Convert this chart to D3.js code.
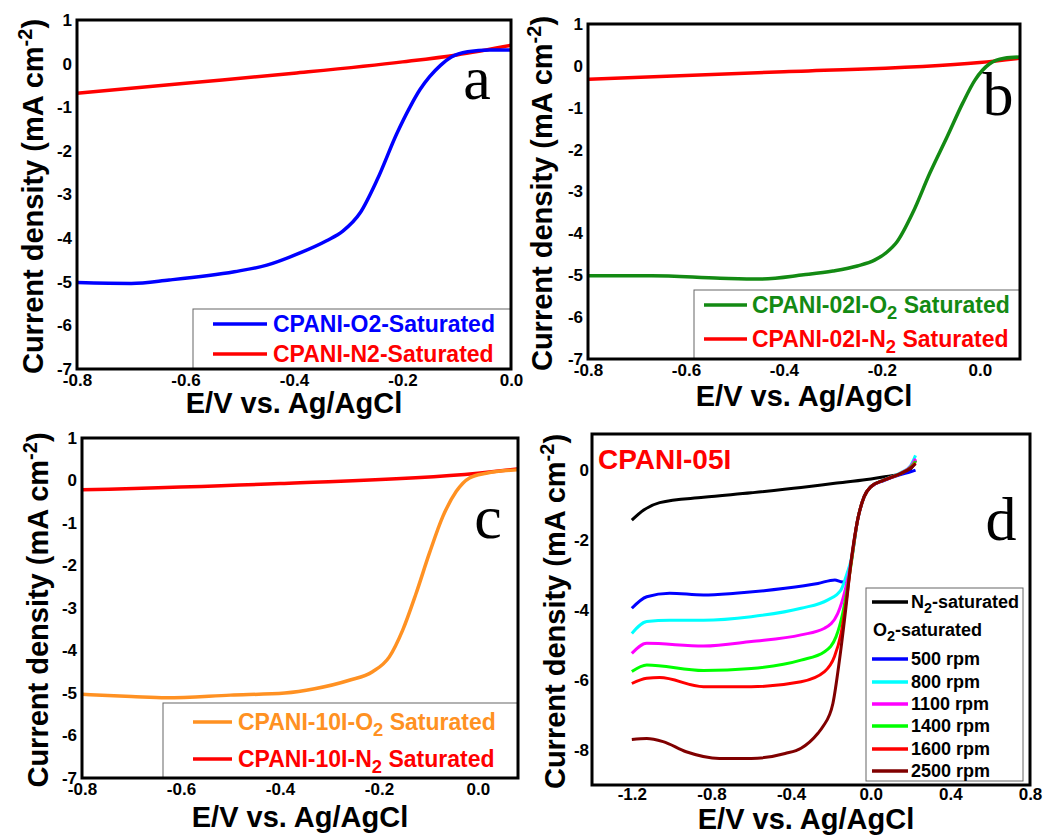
<!DOCTYPE html>
<html>
<head>
<meta charset="utf-8">
<script src="https://cdn.jsdelivr.net/npm/d3@7"></script>
<style>
  body { margin: 0; background: #fff; }
  text { font-family: "Liberation Sans", Arial, sans-serif; font-weight: bold; }
</style>
</head>
<body>
<div id="wrapper"></div>
<script>
// Panel a: CPANI (E in V, j in mA cm-2)
const aO2 = [[-0.8,-5.02],[-0.7,-5.04],[-0.63,-4.96],[-0.51,-4.77],[-0.45,-4.62],[-0.389,-4.34],[-0.34,-4.06],[-0.31,-3.84],[-0.278,-3.42],[-0.247,-2.67],[-0.21,-1.59],[-0.186,-0.99],[-0.168,-0.6],[-0.15,-0.3],[-0.13,-0.04],[-0.11,0.15],[-0.08,0.27],[-0.04,0.31],[0,0.31]]
const aN2 = [[-0.8,-0.68],[-0.6,-0.45],[-0.4,-0.22],[-0.2,0.04],[-0.1,0.2],[0,0.42]]

// Panel b: CPANI-02I
const bO2 = [[-0.8,-5.01],[-0.67,-5.01],[-0.53,-5.07],[-0.45,-5.09],[-0.36,-4.99],[-0.3,-4.9],[-0.25,-4.78],[-0.215,-4.64],[-0.19,-4.45],[-0.169,-4.2],[-0.137,-3.51],[-0.102,-2.56],[-0.067,-1.7],[-0.035,-0.89],[-0.01,-0.34],[0.02,0.05],[0.05,0.18],[0.08,0.21]]
const bN2 = [[-0.8,-0.32],[-0.4,-0.14],[0,0.08],[0.08,0.18]]

// Panel c: CPANI-10I
const cO2 = [[-0.8,-5.03],[-0.7,-5.08],[-0.63,-5.11],[-0.5,-5.05],[-0.39,-5.0],[-0.33,-4.9],[-0.26,-4.7],[-0.213,-4.5],[-0.179,-4.15],[-0.152,-3.52],[-0.125,-2.66],[-0.098,-1.71],[-0.071,-0.85],[-0.044,-0.26],[-0.017,0.06],[0.017,0.17],[0.08,0.25]]
const cN2 = [[-0.8,-0.22],[-0.4,-0.07],[0,0.17],[0.08,0.27]]

// Panel d: CPANI-05I at several rotation rates
const dN2 = [[-1.2,-1.43],[-1.14,-1.14],[-1.06,-0.93],[-0.84,-0.78],[-0.6,-0.65],[-0.35,-0.5],[-0.18,-0.38],[-0.02,-0.27],[0.07,-0.19],[0.13,-0.14],[0.18,-0.05],[0.21,0.1],[0.225,0.28]]
const d500 = [[-1.2,-3.95],[-1.125,-3.62],[-1.01,-3.52],[-0.84,-3.57],[-0.68,-3.52],[-0.43,-3.38],[-0.265,-3.24],[-0.18,-3.14],[-0.15,-3.19],[-0.13,-3.2],[-0.1,-2.67],[-0.066,-1.43],[-0.033,-0.76],[0,-0.48],[0.066,-0.3],[0.15,-0.13],[0.2,-0.05],[0.225,0.0]]
const d800 = [[-1.2,-4.67],[-1.125,-4.33],[-1.01,-4.29],[-0.84,-4.29],[-0.6,-4.19],[-0.35,-3.95],[-0.215,-3.71],[-0.15,-3.43],[-0.116,-2.9],[-0.1,-2.6],[-0.066,-1.43],[-0.033,-0.76],[0,-0.47],[0.066,-0.28],[0.15,-0.08],[0.2,0.12],[0.225,0.42]]
const d1100 = [[-1.2,-5.24],[-1.125,-4.95],[-0.84,-5.03],[-0.6,-4.9],[-0.35,-4.71],[-0.232,-4.52],[-0.166,-4.1],[-0.124,-3.33],[-0.1,-2.67],[-0.066,-1.43],[-0.033,-0.76],[0,-0.48],[0.066,-0.29],[0.15,-0.09],[0.2,0.1],[0.225,0.32]]
const d1400 = [[-1.2,-5.76],[-1.125,-5.57],[-0.84,-5.73],[-0.6,-5.67],[-0.35,-5.43],[-0.232,-5.19],[-0.174,-4.76],[-0.141,-4.1],[-0.116,-3.33],[-0.1,-2.75],[-0.066,-1.43],[-0.033,-0.76],[0,-0.48],[0.066,-0.29],[0.15,-0.1],[0.2,0.08],[0.225,0.25]]
const d1600 = [[-1.2,-6.1],[-1.125,-5.95],[-1.06,-5.93],[-0.84,-6.19],[-0.6,-6.19],[-0.35,-6.05],[-0.232,-5.76],[-0.182,-5.33],[-0.149,-4.67],[-0.116,-3.43],[-0.1,-2.7],[-0.066,-1.43],[-0.033,-0.76],[0,-0.48],[0.066,-0.29],[0.15,-0.1],[0.2,0.06],[0.225,0.2]]
const d2500 = [[-1.2,-7.7],[-1.125,-7.67],[-1.043,-7.76],[-0.927,-8.05],[-0.76,-8.24],[-0.6,-8.24],[-0.43,-8.1],[-0.35,-7.95],[-0.265,-7.52],[-0.24,-7.33],[-0.19,-6.67],[-0.157,-5.43],[-0.124,-3.9],[-0.1,-2.67],[-0.066,-1.43],[-0.033,-0.76],[0,-0.48],[0.066,-0.29],[0.15,-0.1],[0.2,0.05],[0.225,0.18]]

const ticksXabc = [-0.8, -0.6, -0.4, -0.2, 0.0]
const ticksYabc = [-7, -6, -5, -4, -3, -2, -1, 0, 1]
const ticksXd = [-1.2, -0.8, -0.4, 0.0, 0.4, 0.8]
const ticksYd = [-8, -6, -4, -2, 0]

const width = 1052
const height = 835

const svg = d3.select("#wrapper")
  .append("svg")
    .attr("width", width)
    .attr("height", height)

const minus = s => s.replace("\u2212", "-")

// Draw one panel. box = frame in pixels.
function drawPanel(p) {
  const g = svg.append("g")
  const xScale = d3.scaleLinear().domain(p.xDomain).range([p.box.left, p.box.right])
  const yScale = d3.scaleLinear().domain(p.yDomain).range([p.box.bottom, p.box.top])

  const xAxis = g.append("g")
    .attr("transform", `translate(0,${p.box.bottom})`)
    .call(d3.axisBottom(xScale).tickValues(p.xTicks).tickFormat(d => minus(d3.format(".1f")(d))).tickSize(0).tickPadding(p.xPad))
  const yAxis = g.append("g")
    .attr("transform", `translate(${p.box.left},0)`)
    .call(d3.axisLeft(yScale).tickValues(p.yTicks).tickFormat(d => minus(d3.format("d")(d))).tickSize(0).tickPadding(p.yPad))
  for (const ax of [xAxis, yAxis]) {
    ax.select(".domain").remove()
    ax.selectAll("text")
      .attr("fill", "#000")
      .style("font-size", "17px")
      .style("font-family", "'Liberation Sans', Arial, sans-serif")
      .style("font-weight", "bold")
  }

  const lineGenerator = d3.line()
    .x(d => xScale(d[0]))
    .y(d => yScale(d[1]))
    .curve(d3.curveMonotoneX)

  // legend box underneath lines
  const lg = p.legend
  g.append("rect")
    .attr("x", lg.x).attr("y", lg.y).attr("width", lg.w).attr("height", lg.h)
    .attr("fill", "#fff").attr("stroke", "#666").attr("stroke-width", 1)

  p.series.forEach(s => {
    g.append("path")
      .attr("d", lineGenerator(s.data))
      .attr("fill", "none")
      .attr("stroke", s.color)
      .attr("stroke-width", p.lineWidth)
      .attr("stroke-linejoin", "round")
  })

  // frame
  g.append("rect")
    .attr("x", p.box.left).attr("y", p.box.top)
    .attr("width", p.box.right - p.box.left).attr("height", p.box.bottom - p.box.top)
    .attr("fill", "none").attr("stroke", "#000").attr("stroke-width", 3)

  // legend entries
  const fs = lg.fontSize
  lg.rows.forEach(r => {
    if (r.color) {
      g.append("line")
        .attr("x1", lg.lineX1).attr("x2", lg.lineX2)
        .attr("y1", r.y).attr("y2", r.y)
        .attr("stroke", r.color).attr("stroke-width", 3.5)
    }
    const t = g.append("text")
      .attr("x", r.tx || lg.textX).attr("y", r.y + fs * 0.36)
      .attr("fill", r.textColor)
      .style("font-size", fs + "px")
    let shifted = false
    r.parts.forEach(part => {
      if (part.sub) {
        t.append("tspan").text(part.sub).attr("dy", fs * 0.25).style("font-size", (fs * 0.8) + "px")
        shifted = true
      } else {
        const ts = t.append("tspan").text(part.t)
        if (shifted) { ts.attr("dy", -fs * 0.25); shifted = false }
      }
    })
  })

  // axis titles
  g.append("text")
    .attr("x", (p.box.left + p.box.right) / 2 + p.xLabelDx)
    .attr("y", p.xLabelY)
    .attr("text-anchor", "middle")
    .style("font-size", "29px")
    .text("E/V vs. Ag/AgCl")

  const yl = g.append("text")
    .attr("transform", `translate(${p.yLabelX},${(p.box.top + p.box.bottom) / 2 + 2}) rotate(-90)`)
    .attr("text-anchor", "middle")
    .style("font-size", "29px")
  yl.append("tspan").text("Current density (mA cm")
  yl.append("tspan").text("-2").attr("dy", -11).style("font-size", "20px")
  yl.append("tspan").text(")").attr("dy", 11)

  // panel letter
  g.append("text")
    .attr("x", p.letter.x).attr("y", p.letter.y)
    .attr("text-anchor", "middle")
    .style("font-family", "'Liberation Serif', 'Times New Roman', serif")
    .style("font-weight", "normal")
    .style("font-size", "62px")
    .text(p.letter.t)

  return { g, xScale, yScale }
}

drawPanel({
  box: { left: 77, right: 511, top: 20, bottom: 369 },
  xDomain: [-0.8, 0.0], yDomain: [-7, 1],
  xTicks: ticksXabc, yTicks: ticksYabc, xPad: 5, yPad: 5, lineWidth: 3.5,
  xLabelY: 413, xLabelDx: 0, yLabelX: 43,
  letter: { t: "a", x: 477, y: 99 },
  series: [
    { data: aN2, color: "#ff0000" },
    { data: aO2, color: "#0000ff" },
  ],
  legend: {
    x: 193, y: 309, w: 318, h: 60, lineX1: 213, lineX2: 267, textX: 273, fontSize: 23,
    rows: [
      { y: 324, color: "#0000ff", textColor: "#0000ff", parts: [{ t: "CPANI-O2-Saturated" }] },
      { y: 354, color: "#ff0000", textColor: "#ff0000", parts: [{ t: "CPANI-N2-Saturated" }] },
    ],
  },
})

drawPanel({
  box: { left: 588, right: 1020, top: 24, bottom: 359 },
  xDomain: [-0.8, 0.082], yDomain: [-7, 1],
  xTicks: ticksXabc, yTicks: ticksYabc, xPad: 5, yPad: 5, lineWidth: 3.5,
  xLabelY: 406, xLabelDx: 0, yLabelX: 552,
  letter: { t: "b", x: 998, y: 115 },
  series: [
    { data: bN2, color: "#ff0000" },
    { data: bO2, color: "#138a13" },
  ],
  legend: {
    x: 694, y: 290, w: 326, h: 69, lineX1: 704, lineX2: 747, textX: 752, fontSize: 23,
    rows: [
      { y: 305, color: "#138a13", textColor: "#138a13", parts: [{ t: "CPANI-02I-O" }, { sub: "2" }, { t: " Saturated" }] },
      { y: 339, color: "#ff0000", textColor: "#ff0000", parts: [{ t: "CPANI-02I-N" }, { sub: "2" }, { t: " Saturated" }] },
    ],
  },
})

drawPanel({
  box: { left: 82, right: 518, top: 438, bottom: 778 },
  xDomain: [-0.8, 0.081], yDomain: [-7, 1],
  xTicks: ticksXabc, yTicks: ticksYabc, xPad: 5, yPad: 5, lineWidth: 3.5,
  xLabelY: 827, xLabelDx: 0, yLabelX: 48,
  letter: { t: "c", x: 488, y: 538 },
  series: [
    { data: cN2, color: "#ff0000" },
    { data: cO2, color: "#ff9122" },
  ],
  legend: {
    x: 163, y: 703, w: 355, h: 75, lineX1: 193, lineX2: 232, textX: 238, fontSize: 23,
    rows: [
      { y: 722, color: "#ff9122", textColor: "#ff9122", parts: [{ t: "CPANI-10I-O" }, { sub: "2" }, { t: " Saturated" }] },
      { y: 759, color: "#ff0000", textColor: "#ff0000", parts: [{ t: "CPANI-10I-N" }, { sub: "2" }, { t: " Saturated" }] },
    ],
  },
})

const pd = drawPanel({
  box: { left: 592, right: 1030, top: 434, bottom: 785 },
  xDomain: [-1.4, 0.8], yDomain: [-9, 1.03],
  xTicks: ticksXd, yTicks: ticksYd, xPad: 3, yPad: 3, lineWidth: 3,
  xLabelY: 829, xLabelDx: -5, yLabelX: 565,
  letter: { t: "d", x: 1001, y: 540 },
  series: [
    { data: dN2, color: "#000000" },
    { data: d500, color: "#0000ff" },
    { data: d800, color: "#00ffff" },
    { data: d1100, color: "#ff00ff" },
    { data: d1400, color: "#00ff00" },
    { data: d1600, color: "#ff0000" },
    { data: d2500, color: "#800000" },
  ],
  legend: {
    x: 866, y: 588, w: 157, h: 193, lineX1: 872, lineX2: 908, textX: 911, fontSize: 18,
    rows: [
      { y: 602, color: "#000000", textColor: "#000", parts: [{ t: "N" }, { sub: "2" }, { t: "-saturated" }] },
      { y: 630, tx: 873, textColor: "#000", parts: [{ t: "O" }, { sub: "2" }, { t: "-saturated" }] },
      { y: 659, color: "#0000ff", textColor: "#000", parts: [{ t: "500 rpm" }] },
      { y: 682, color: "#00ffff", textColor: "#000", parts: [{ t: "800 rpm" }] },
      { y: 704, color: "#ff00ff", textColor: "#000", parts: [{ t: "1100 rpm" }] },
      { y: 726, color: "#00ff00", textColor: "#000", parts: [{ t: "1400 rpm" }] },
      { y: 749, color: "#ff0000", textColor: "#000", parts: [{ t: "1600 rpm" }] },
      { y: 771, color: "#800000", textColor: "#000", parts: [{ t: "2500 rpm" }] },
    ],
  },
})

pd.g.append("text")
  .attr("x", 598).attr("y", 469)
  .attr("fill", "#ff0000")
  .style("font-size", "28px")
  .text("CPANI-05I")
</script>
</body>
</html>
